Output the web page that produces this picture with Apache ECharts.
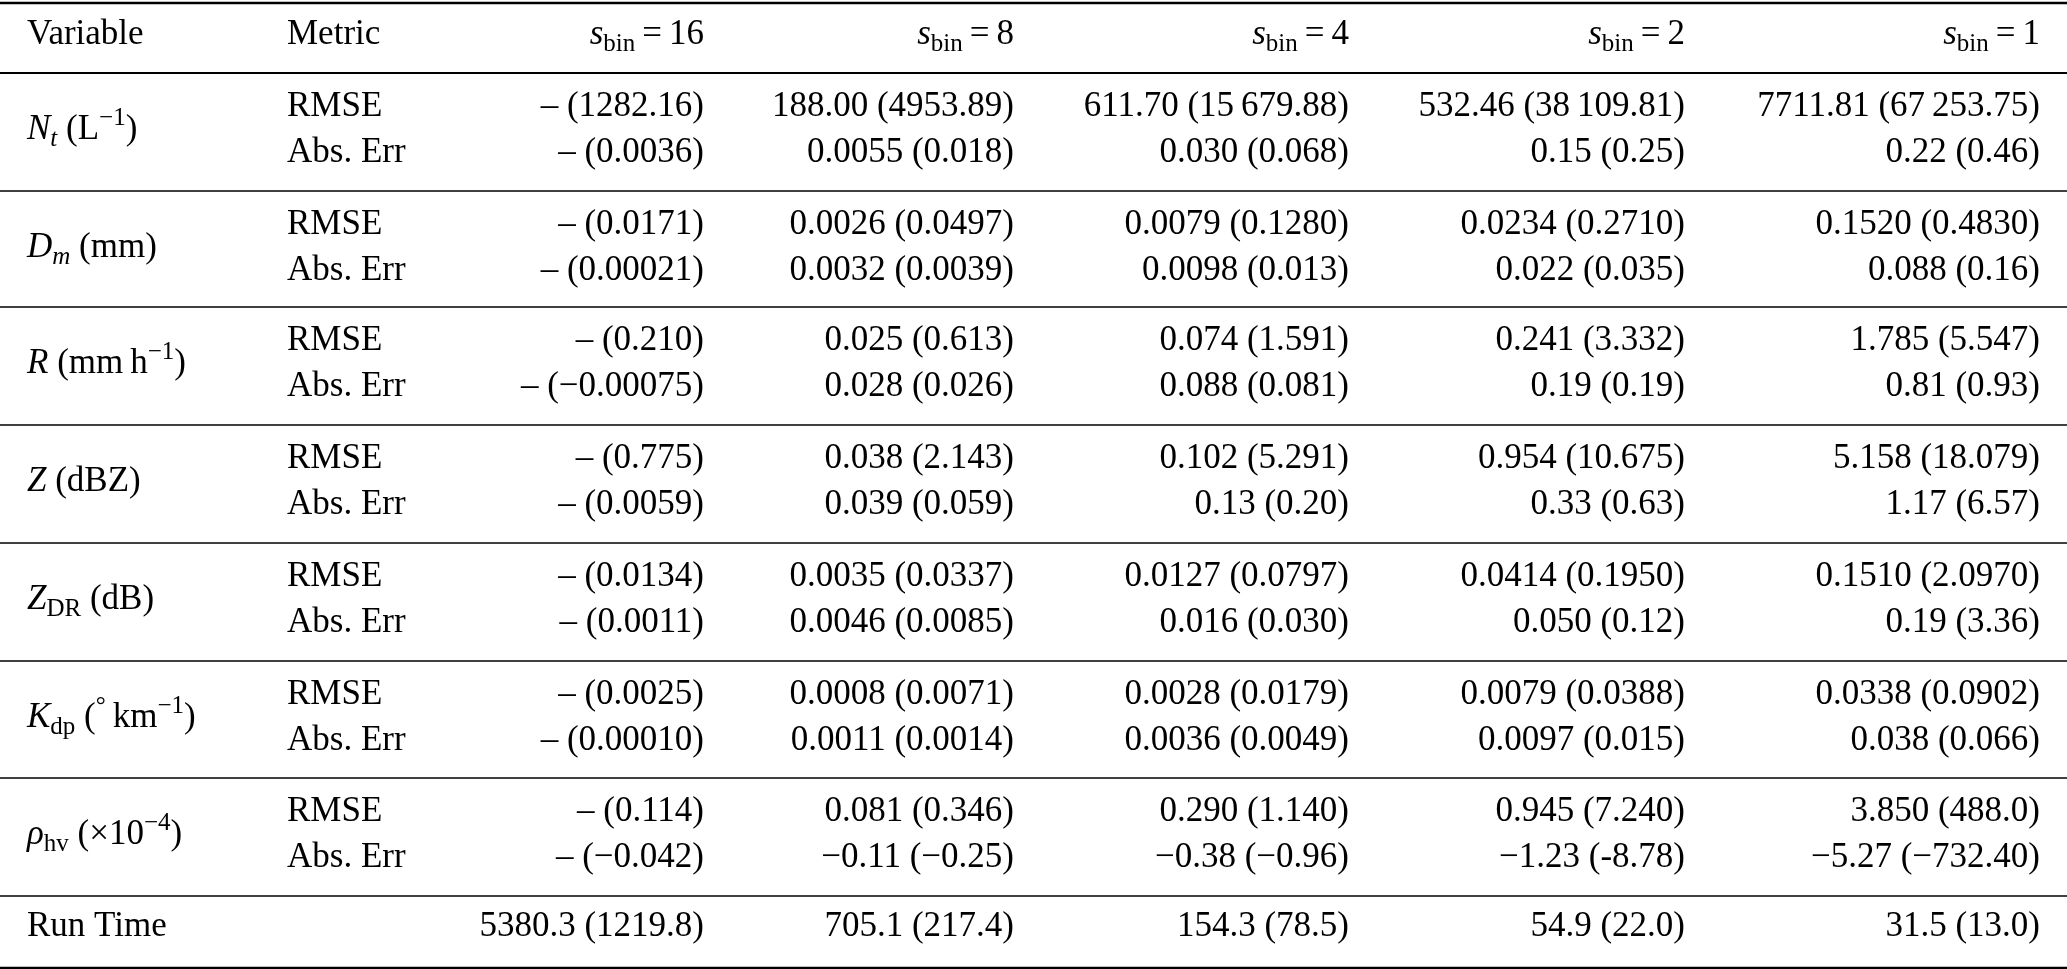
<!DOCTYPE html>
<html lang="en">
<head>
    <meta charset="UTF-8">
    <title>Table</title>
    <style>
        * { margin: 0; padding: 0; }
        .main { width: 2067px; height: 969px; background: #fff; }
    </style>
</head>
<body>
<div id="main" class="main"></div>
<script src="https://cdn.jsdelivr.net/npm/echarts@6/dist/echarts.min.js"></script>
<script>
    // piece: [text, kind] kind: n normal, i italic, sub, isub (italic sub), sup
    var variables = [
        [['N', 'i'], ['t', 'isub'], [' (L', 'n'], ['\u22121', 'sup'], [')', 'n']],
        [['D', 'i'], ['m', 'isub'], [' (mm)', 'n']],
        [['R', 'i'], [' (mm\u2009h', 'n'], ['\u22121', 'sup'], [')', 'n']],
        [['Z', 'i'], [' (dBZ)', 'n']],
        [['Z', 'i'], ['DR', 'sub'], [' (dB)', 'n']],
        [['K', 'i'], ['dp', 'sub'], [' (', 'n'], ['\u00b0', 'sup'], ['\u2009km', 'n'], ['\u22121', 'sup'], [')', 'n']],
        [['\u03c1', 'i'], ['hv', 'sub'], [' (\u00d710', 'n'], ['\u22124', 'sup'], [')', 'n']]
    ];
    var metrics = ['RMSE', 'Abs. Err'];
    var binSizes = ['16', '8', '4', '2', '1'];
    var s16 = ['\u2013 (1282.16)', '\u2013 (0.0036)', '\u2013 (0.0171)', '\u2013 (0.00021)', '\u2013 (0.210)', '\u2013 (\u22120.00075)',
        '\u2013 (0.775)', '\u2013 (0.0059)', '\u2013 (0.0134)', '\u2013 (0.0011)', '\u2013 (0.0025)', '\u2013 (0.00010)',
        '\u2013 (0.114)', '\u2013 (\u22120.042)'];
    var s8 = ['188.00 (4953.89)', '0.0055 (0.018)', '0.0026 (0.0497)', '0.0032 (0.0039)', '0.025 (0.613)', '0.028 (0.026)',
        '0.038 (2.143)', '0.039 (0.059)', '0.0035 (0.0337)', '0.0046 (0.0085)', '0.0008 (0.0071)', '0.0011 (0.0014)',
        '0.081 (0.346)', '\u22120.11 (\u22120.25)'];
    var s4 = ['611.70 (15\u2009679.88)', '0.030 (0.068)', '0.0079 (0.1280)', '0.0098 (0.013)', '0.074 (1.591)', '0.088 (0.081)',
        '0.102 (5.291)', '0.13 (0.20)', '0.0127 (0.0797)', '0.016 (0.030)', '0.0028 (0.0179)', '0.0036 (0.0049)',
        '0.290 (1.140)', '\u22120.38 (\u22120.96)'];
    var s2 = ['532.46 (38\u2009109.81)', '0.15 (0.25)', '0.0234 (0.2710)', '0.022 (0.035)', '0.241 (3.332)', '0.19 (0.19)',
        '0.954 (10.675)', '0.33 (0.63)', '0.0414 (0.1950)', '0.050 (0.12)', '0.0079 (0.0388)', '0.0097 (0.015)',
        '0.945 (7.240)', '\u22121.23 (-8.78)'];
    var s1 = ['7711.81 (67\u2009253.75)', '0.22 (0.46)', '0.1520 (0.4830)', '0.088 (0.16)', '1.785 (5.547)', '0.81 (0.93)',
        '5.158 (18.079)', '1.17 (6.57)', '0.1510 (2.0970)', '0.19 (3.36)', '0.0338 (0.0902)', '0.038 (0.066)',
        '3.850 (488.0)', '\u22125.27 (\u2212732.40)'];
    var runTime = ['5380.3 (1219.8)', '705.1 (217.4)', '154.3 (78.5)', '54.9 (22.0)', '31.5 (13.0)'];
    var columns = [s16, s8, s4, s2, s1];

    var FAMILY = '"Liberation Serif", "DejaVu Serif", serif';
    var FS = 35;
    var colRight = [704, 1014, 1349, 1685, 2040];
    var groupLines = [73, 191, 307, 425, 543, 661, 778, 896];

    var ctx = document.createElement('canvas').getContext('2d');
    function pieceFont(kind) {
        var size = (kind === 'sub' || kind === 'isub' || kind === 'sup') ? Math.round(FS * 0.72) : FS;
        var ital = (kind === 'i' || kind === 'isub') ? 'italic ' : '';
        return ital + size + 'px ' + FAMILY;
    }
    function pieceDy(kind) {
        if (kind === 'sub' || kind === 'isub') return 9;
        if (kind === 'sup') return -12;
        return 0;
    }
    var elements = [];
    function rich(pieces, x, y, align) {
        var widths = pieces.map(function (p) {
            ctx.font = pieceFont(p[1]);
            return ctx.measureText(p[0]).width;
        });
        var total = widths.reduce(function (a, b) { return a + b; }, 0);
        var cx = align === 'right' ? x - total : x;
        pieces.forEach(function (p, i) {
            elements.push({
                type: 'text', x: cx, y: y + pieceDy(p[1]), silent: true,
                style: { text: p[0], font: pieceFont(p[1]), fill: '#000', textAlign: 'left', textVerticalAlign: 'middle' }
            });
            cx += widths[i];
        });
    }
    function hline(y, w) {
        elements.push({
            type: 'line', silent: true,
            shape: { x1: 0, y1: y, x2: 2067, y2: y },
            style: { stroke: '#000', lineWidth: w }
        });
    }

    hline(3, 2.5);
    hline(968, 2.5);
    groupLines.forEach(function (y, i) { hline(y, i === 0 ? 2 : 1.5); });

    // header
    rich([['Variable', 'n']], 27, 35, 'left');
    rich([['Metric', 'n']], 287, 35, 'left');
    binSizes.forEach(function (b, j) {
        rich([['s', 'i'], ['bin', 'sub'], ['\u2009=\u2009' + b, 'n']], colRight[j], 35, 'right');
    });

    variables.forEach(function (v, g) {
        var top = groupLines[g];
        rich(v, 27, top + 57, 'left');
        metrics.forEach(function (m, k) {
            var y = top + (k === 0 ? 34 : 80);
            rich([[m, 'n']], 287, y, 'left');
            columns.forEach(function (col, j) {
                rich([[col[g * 2 + k], 'n']], colRight[j], y, 'right');
            });
        });
    });

    rich([['Run Time', 'n']], 27, 927, 'left');
    runTime.forEach(function (t, j) {
        rich([[t, 'n']], colRight[j], 927, 'right');
    });

    var myChart = echarts.init(document.getElementById('main'), null, {renderer: 'canvas'});
    myChart.setOption({
        animation: false,
        graphic: { elements: elements }
    });
</script>
</body>
</html>
